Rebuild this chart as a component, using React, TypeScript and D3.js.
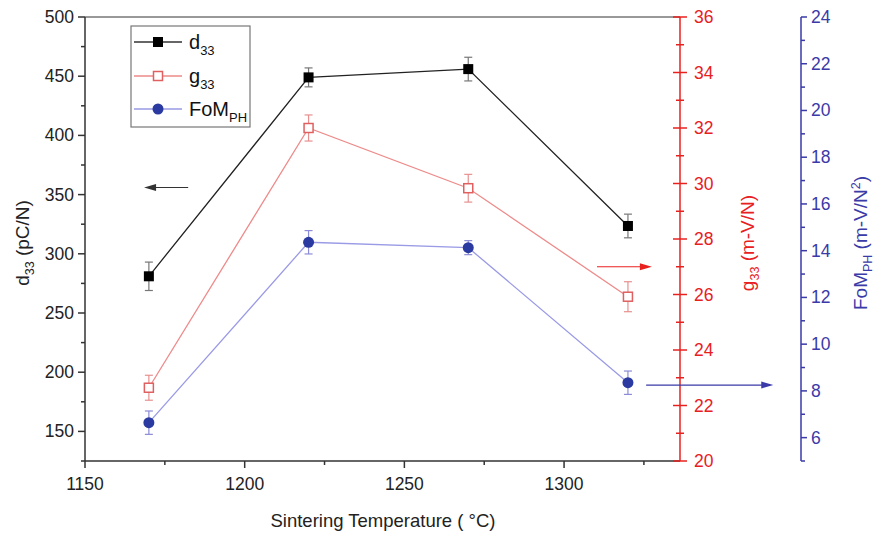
import React from "react";
import * as d3 from "d3";

const temps = [1170, 1220, 1270, 1320];
const d33 = [281, 449, 456, 323.5];
const d33Err = [12, 8, 10, 10];
const g33 = [22.64, 32.0, 29.83, 25.92];
const g33Err = [0.45, 0.47, 0.5, 0.54];
const fom = [6.64, 14.36, 14.13, 8.35];
const fomErr = [0.5, 0.5, 0.3, 0.5];

const xTicks = [1150, 1200, 1250, 1300];
const xMinor = [1175, 1225, 1275, 1325];
const leftTicks = [150, 200, 250, 300, 350, 400, 450, 500];
const leftMinor = [125, 175, 225, 275, 325, 375, 425, 475];
const redTicks = [20, 22, 24, 26, 28, 30, 32, 34, 36];
const redMinor = [21, 23, 25, 27, 29, 31, 33, 35];
const blueTicks = [6, 8, 10, 12, 14, 16, 18, 20, 22, 24];
const blueMinor = [5, 7, 9, 11, 13, 15, 17, 19, 21, 23];

// annotation arrows in data coordinates
const arrowD33 = { from: 1182.3, to: 1168.5, y: 356 };
const arrowG33 = { from: 1310.3, to: 1327.5, y: 27.0 };
const arrowFom = { from: 1325.7, to: 1365.5, y: 8.25 };

const RED = "#e8201e";
const BLUE = "#3a3aa8";
const FONT = "Liberation Sans, Arial, sans-serif";
const TICK_FS = 17.5;

export default function App() {
  const x = d3.scaleLinear().domain([1150, 1336.3]).range([85, 680]);
  const yL = d3.scaleLinear().domain([125, 500]).range([461, 17]);
  const yR = d3.scaleLinear().domain([20, 36]).range([461, 17]);
  const yB = d3.scaleLinear().domain([5, 24]).range([461, 17]);

  const mk = (ys: number[], sc: d3.ScaleLinear<number, number>) =>
    d3.line<number>().x((_, i) => x(temps[i])).y((v) => sc(v))(ys) || "";

  const errBars = (vals: number[], errs: number[], sc: d3.ScaleLinear<number, number>, color: string) =>
    vals.map((v, i) => {
      const cx = x(temps[i]);
      const y0 = sc(v - errs[i]);
      const y1 = sc(v + errs[i]);
      return (
        <g key={i} stroke={color} strokeWidth={1.2}>
          <line x1={cx} x2={cx} y1={y0} y2={y1} />
          <line x1={cx - 4} x2={cx + 4} y1={y0} y2={y0} />
          <line x1={cx - 4} x2={cx + 4} y1={y1} y2={y1} />
        </g>
      );
    });

  const arrow = (x0: number, x1: number, y: number, color: string, key: string) => {
    const dir = Math.sign(x1 - x0);
    const hl = 12;
    return (
      <g key={key}>
        <line x1={x0} x2={x1 - dir * hl * 0.6} y1={y} y2={y} stroke={color} strokeWidth={1.2} />
        <path d={`M${x1},${y} L${x1 - dir * hl},${y - 3.5} L${x1 - dir * hl},${y + 3.5} Z`} fill={color} />
      </g>
    );
  };

  return (
    <svg width={885} height={536} style={{ position: "absolute", left: 0, top: 0, background: "#fff" }} fontFamily={FONT}>
      {/* frame */}
      <line x1={85} x2={680} y1={17} y2={17} stroke="#777" strokeWidth={1.5} />
      <line x1={85} x2={680} y1={461} y2={461} stroke="#333" strokeWidth={1.5} />
      <line x1={85} x2={85} y1={17} y2={461} stroke="#333" strokeWidth={1.5} />

      {/* x ticks */}
      {xTicks.map((t) => (
        <g key={"xt" + t}>
          <line x1={x(t)} x2={x(t)} y1={461} y2={468} stroke="#333" strokeWidth={1.5} />
          <text x={x(t)} y={490} textAnchor="middle" fontSize={TICK_FS} fill="#222">{t}</text>
        </g>
      ))}
      {xMinor.map((t) => (
        <line key={"xm" + t} x1={x(t)} x2={x(t)} y1={461} y2={465} stroke="#333" strokeWidth={1.5} />
      ))}

      {/* left ticks */}
      {leftTicks.map((t) => (
        <g key={"lt" + t}>
          <line x1={78} x2={85} y1={yL(t)} y2={yL(t)} stroke="#333" strokeWidth={1.5} />
          <text x={74} y={yL(t) + 6} textAnchor="end" fontSize={TICK_FS} fill="#222">{t}</text>
        </g>
      ))}
      {leftMinor.map((t) => (
        <line key={"lm" + t} x1={81} x2={85} y1={yL(t)} y2={yL(t)} stroke="#333" strokeWidth={1.5} />
      ))}

      {/* red axis */}
      <line x1={680} x2={680} y1={17} y2={461} stroke={RED} strokeWidth={1.5} />
      {redTicks.map((t) => (
        <g key={"rt" + t}>
          <line x1={673} x2={687} y1={yR(t)} y2={yR(t)} stroke={RED} strokeWidth={1.5} />
          <text x={694} y={yR(t) + 6} textAnchor="start" fontSize={TICK_FS} fill={RED}>{t}</text>
        </g>
      ))}
      {redMinor.map((t) => (
        <line key={"rm" + t} x1={676} x2={684} y1={yR(t)} y2={yR(t)} stroke={RED} strokeWidth={1.5} />
      ))}

      {/* blue axis */}
      <line x1={801} x2={801} y1={17} y2={461} stroke={BLUE} strokeWidth={1.5} />
      {blueTicks.map((t) => (
        <g key={"bt" + t}>
          <line x1={801} x2={807} y1={yB(t)} y2={yB(t)} stroke={BLUE} strokeWidth={1.5} />
          <text x={811} y={yB(t) + 6} textAnchor="start" fontSize={TICK_FS} fill={BLUE}>{t}</text>
        </g>
      ))}
      {blueMinor.map((t) => (
        <line key={"bm" + t} x1={801} x2={805} y1={yB(t)} y2={yB(t)} stroke={BLUE} strokeWidth={1.5} />
      ))}

      {/* axis titles */}
      <text x={383} y={527} textAnchor="middle" fontSize={18.5} fill="#222">Sintering Temperature ( °C)</text>
      <text transform="translate(29,243) rotate(-90)" textAnchor="middle" fontSize={19} fill="#222">
        d<tspan fontSize={12.5} dy={5}>33</tspan><tspan dy={-5}> (pC/N)</tspan>
      </text>
      <text transform="translate(754,243) rotate(-90)" textAnchor="middle" fontSize={19} fill={RED}>
        g<tspan fontSize={12.5} dy={5}>33</tspan><tspan dy={-5}> (m-V/N)</tspan>
      </text>
      <text transform="translate(867,243) rotate(-90)" textAnchor="middle" fontSize={19} fill={BLUE}>
        FoM<tspan fontSize={12.5} dy={5}>PH</tspan><tspan dy={-5}> (m-V/N</tspan><tspan fontSize={12.5} dy={-7}>2</tspan><tspan dy={7}>)</tspan>
      </text>

      {/* series lines */}
      <path d={mk(d33, yL)} fill="none" stroke="#222" strokeWidth={1.3} />
      <path d={mk(g33, yR)} fill="none" stroke="#ee8a8a" strokeWidth={1.3} />
      <path d={mk(fom, yB)} fill="none" stroke="#9a9ae6" strokeWidth={1.3} />

      {errBars(d33, d33Err, yL, "#777")}
      {errBars(g33, g33Err, yR, "#e89090")}
      {errBars(fom, fomErr, yB, "#8c8cd8")}

      {d33.map((v, i) => (
        <rect key={"dm" + i} x={x(temps[i]) - 5} y={yL(v) - 5} width={10} height={10} fill="#000" />
      ))}
      {g33.map((v, i) => (
        <rect key={"gm" + i} x={x(temps[i]) - 4.5} y={yR(v) - 4.5} width={9} height={9} fill="#fff" stroke="#e06060" strokeWidth={1.5} />
      ))}
      {fom.map((v, i) => (
        <circle key={"fm" + i} cx={x(temps[i])} cy={yB(v)} r={5.5} fill="#2b3aa0" />
      ))}

      {/* arrows */}
      {arrow(x(arrowD33.from), x(arrowD33.to), yL(arrowD33.y), "#333", "a1")}
      {arrow(x(arrowG33.from), x(arrowG33.to), yR(arrowG33.y), RED, "a2")}
      {arrow(x(arrowFom.from), x(arrowFom.to), yB(arrowFom.y), BLUE, "a3")}

      {/* legend */}
      <rect x={131} y={26} width={119} height={101} fill="#fff" stroke="#777" strokeWidth={1.2} />
      <line x1={134} x2={182} y1={42} y2={42} stroke="#333" strokeWidth={1.3} />
      <rect x={153} y={37} width={10} height={10} fill="#000" />
      <text x={189} y={49} fontSize={20} fill="#111">d<tspan fontSize={13} dy={6}>33</tspan></text>
      <line x1={134} x2={182} y1={76} y2={76} stroke="#ee8a8a" strokeWidth={1.3} />
      <rect x={153.5} y={71.5} width={9} height={9} fill="#fff" stroke="#e06060" strokeWidth={1.5} />
      <text x={189} y={83} fontSize={20} fill="#111">g<tspan fontSize={13} dy={6}>33</tspan></text>
      <line x1={134} x2={182} y1={109} y2={109} stroke="#9a9ae6" strokeWidth={1.3} />
      <circle cx={158} cy={109} r={5.5} fill="#2b3aa0" />
      <text x={189} y={116} fontSize={20} fill="#111">FoM<tspan fontSize={13} dy={6}>PH</tspan></text>
    </svg>
  );
}
